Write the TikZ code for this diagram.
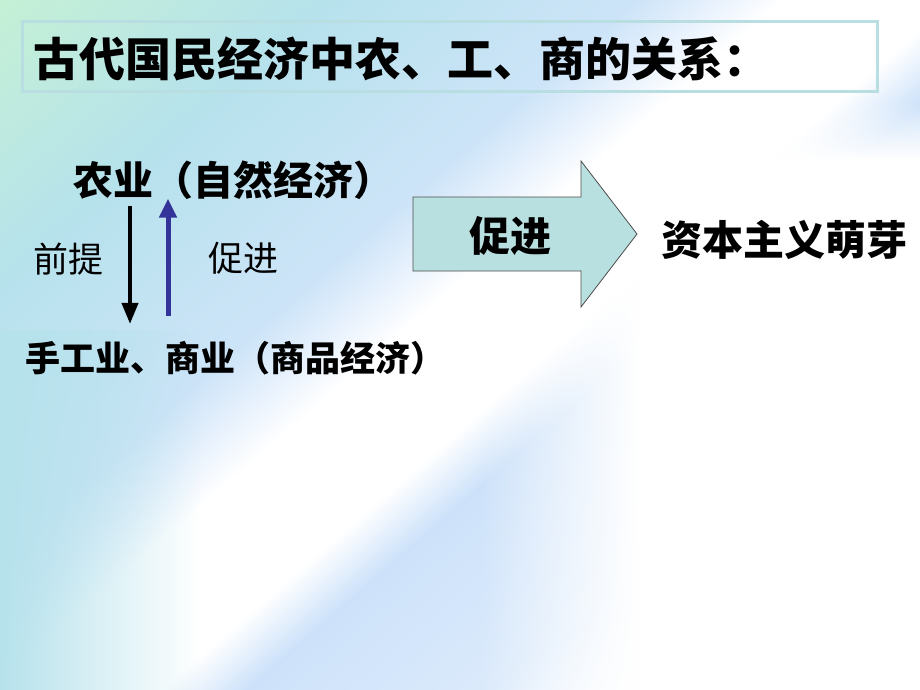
\documentclass[tikz,border=0pt]{standalone}
\usepackage{fontspec}
\newfontfamily\cjk{Noto Sans CJK SC}
\usetikzlibrary{arrows.meta,fadings}

\definecolor{bgGreen}{RGB}{196,240,214}
\definecolor{bgCyan}{RGB}{182,226,236}
\definecolor{bgLight}{RGB}{205,228,248}
\definecolor{bgBlue}{RGB}{205,226,250}
\definecolor{boxline}{RGB}{185,222,225}
\definecolor{arrowfill}{RGB}{185,224,224}
\definecolor{upblue}{RGB}{51,51,153}

\pgfdeclarehorizontalshading{slidebg}{100bp}{color(0bp)=(bgGreen); color(15bp)=(bgGreen); color(28bp)=(bgCyan); color(41bp)=(bgLight); color(44bp)=(bgBlue!50!white); color(47bp)=(white); color(54bp)=(white); color(57.5bp)=(bgBlue); color(68bp)=(bgBlue!70!white); color(75bp)=(white); color(100bp)=(white)}
\tikzfading[name=fade right, left color=transparent!0, right color=transparent!100]
\tikzfading[name=fade left, left color=transparent!100, right color=transparent!0]
\tikzfading[name=fade down, top color=transparent!100, bottom color=transparent!0]

\begin{document}
\begin{tikzpicture}[x=1pt,y=-1pt,
    label/.style={font=\cjk\fontsize{35}{40}\selectfont, inner sep=2pt},
    boldlabel/.style={font=\cjk\bfseries\fontsize{#1}{#1}\selectfont, inner sep=2pt},
    downarrow/.style={line width=4pt, shorten <=4pt, shorten >=15pt,
        -{Triangle[width=16pt,length=21pt]}},
    uparrow/.style={upblue, line width=5pt, shorten <=23pt, shorten >=-3pt,
        -{Triangle[width=17pt,length=19pt]}},
    bigarrow/.style={draw=black!70, line width=0.8pt, fill=arrowfill}]
    \useasboundingbox (0,0) rectangle (920,690);

    % Background
    \shade[shading=slidebg, shading angle=-49] (0,0) rectangle (920,690);
    \fill[bgCyan, path fading=fade right] (0,330) rectangle (200,690);
    \fill[white, path fading=fade left] (480,250) rectangle (640,690);
    \fill[white, path fading=fade down] (640,100) rectangle (920,160);
    \fill[white] (640,160) rectangle (920,690);

    % Title
    \draw[boxline, line width=3pt] (22,22) rectangle (877,92);
    \node[boldlabel=46, anchor=west] (title) at (31,59) {古代国民经济中农、工、商的关系：};

    % Left part
    \node[boldlabel=40, anchor=west] (agri) at (71,180) {农业（自然经济）};
    \node[boldlabel=35, anchor=west] (craft) at (23,358) {手工业、商业（商品经济）};
    \node[label, anchor=west] (premise) at (31,259) {前提};
    \node[label, anchor=west] (promote) at (206,258) {促进};

    \coordinate (downx) at (130,0);
    \coordinate (upx) at (168,0);
    \draw[downarrow] (agri.south -| downx) -- (craft.north -| downx);
    \draw[uparrow] (craft.north -| upx) -- (agri.south -| upx);

    % Big arrow
    \draw[bigarrow] (413,197) -- (581,197) -- (581,161) -- (637,234)
        -- (581,307) -- (581,271) -- (413,271) -- cycle;
    \node[boldlabel=41] (push) at (510,236) {促进};
    \node[boldlabel=41, anchor=west] (sprout) at (659,240) {资本主义萌芽};
\end{tikzpicture}
\end{document}
